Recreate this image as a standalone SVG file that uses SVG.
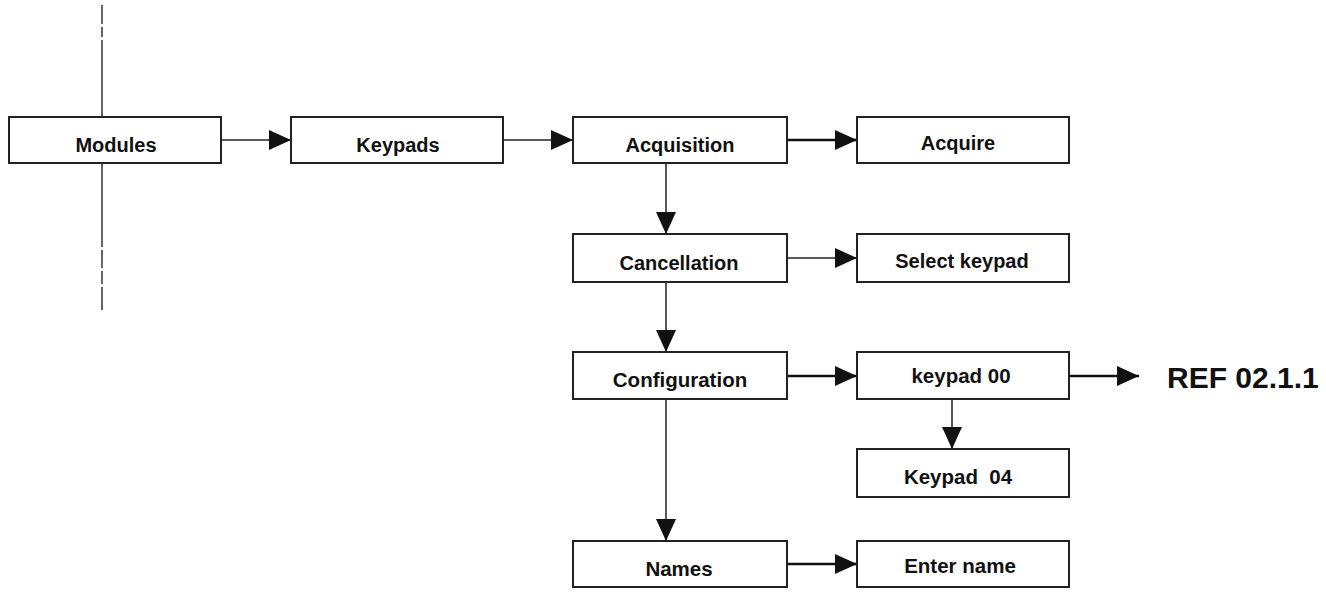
<svg xmlns="http://www.w3.org/2000/svg" width="1326" height="593" viewBox="0 0 1326 593">
<style>
.box{fill:#fff;stroke:#222;stroke-width:2}
.lbl{font-family:"Liberation Sans",Arial,sans-serif;font-weight:bold;font-size:20px;fill:#111;text-anchor:middle}
.nar{font-family:"Liberation Sans",Arial,sans-serif;font-weight:bold;font-size:20.5px;fill:#111;text-anchor:middle}
.con{stroke:#222;stroke-width:1.5;fill:none}
.thk{stroke:#111;stroke-width:2.5;fill:none}
.dash{stroke:#333;stroke-width:1.5;fill:none}
</style>
<defs>
<marker id="ah" markerWidth="22" markerHeight="20" refX="22" refY="10" orient="auto" markerUnits="userSpaceOnUse">
<path d="M0,0 L22,10 L0,20 Z" fill="#111"/>
</marker>
</defs>
<g id="axis">
<path class="dash" d="M102,5 V24 M102,27 V37 M102,40 V117 M102,163 V247 M102,250 V268 M102,271 V284 M102,287 V310"/>
</g>
<g id="connectors">
<line class="con" x1="221" y1="140" x2="291" y2="140" marker-end="url(#ah)"/>
<line class="con" x1="503" y1="140" x2="573" y2="140" marker-end="url(#ah)"/>
<line class="thk" x1="787" y1="140" x2="857" y2="140" marker-end="url(#ah)"/>
<line class="con" x1="666" y1="163" x2="666" y2="234" marker-end="url(#ah)"/>
<line class="con" x1="787" y1="258" x2="857" y2="258" marker-end="url(#ah)"/>
<line class="con" x1="666" y1="282" x2="666" y2="352" marker-end="url(#ah)"/>
<line class="thk" x1="787" y1="376" x2="857" y2="376" marker-end="url(#ah)"/>
<line class="thk" x1="1069" y1="376" x2="1139" y2="376" marker-end="url(#ah)"/>
<line class="con" x1="952" y1="399" x2="952" y2="449" marker-end="url(#ah)"/>
<line class="con" x1="666" y1="399" x2="666" y2="541" marker-end="url(#ah)"/>
<line class="thk" x1="787" y1="564" x2="857" y2="564" marker-end="url(#ah)"/>
</g>
<g id="modules"><rect class="box" x="9" y="117" width="212" height="46"/><text class="lbl" x="116" y="152">Modules</text></g>
<g id="keypads"><rect class="box" x="291" y="117" width="212" height="46"/><text class="lbl" x="398" y="152">Keypads</text></g>
<g id="acquisition"><rect class="box" x="573" y="117" width="214" height="46"/><text class="lbl" x="680" y="152">Acquisition</text></g>
<g id="acquire"><rect class="box" x="857" y="117" width="212" height="46"/><text class="lbl" x="958" y="150">Acquire</text></g>
<g id="cancellation"><rect class="box" x="573" y="234" width="214" height="48"/><text class="lbl" x="679" y="270">Cancellation</text></g>
<g id="select-keypad"><rect class="box" x="857" y="234" width="212" height="48"/><text class="lbl" x="962" y="268">Select keypad</text></g>
<g id="configuration"><rect class="box" x="573" y="352" width="214" height="47"/><text class="nar" x="680" y="387">Configuration</text></g>
<g id="keypad00"><rect class="box" x="857" y="352" width="212" height="47"/><text class="nar" x="961" y="383">keypad 00</text></g>
<g id="ref"><text x="1167" y="388" font-family="Liberation Sans,Arial,sans-serif" font-weight="bold" font-size="30" fill="#111">REF 02.1.1</text></g>
<g id="keypad04"><rect class="box" x="857" y="449" width="212" height="48"/><text class="nar" x="958" y="484" xml:space="preserve">Keypad  04</text></g>
<g id="names"><rect class="box" x="573" y="541" width="214" height="46"/><text class="nar" x="679" y="576">Names</text></g>
<g id="enter-name"><rect class="box" x="857" y="541" width="212" height="46"/><text class="nar" x="960" y="573">Enter name</text></g>
</svg>
